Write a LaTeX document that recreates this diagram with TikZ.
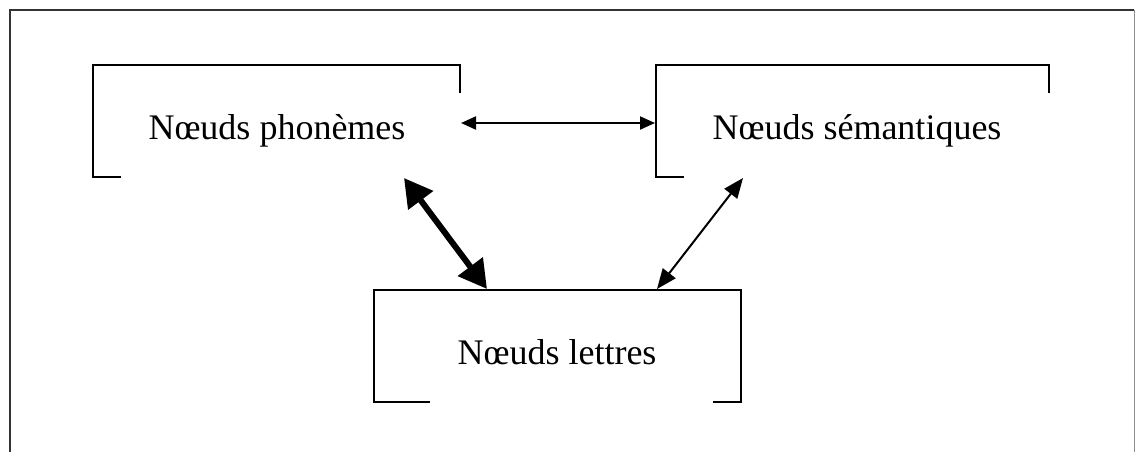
\documentclass[tikz,border=0pt]{standalone}
\usepackage{fontspec}
\setmainfont{Liberation Serif}
\usetikzlibrary{arrows.meta}
\begin{document}
\begin{tikzpicture}[x=1pt,y=-1pt,
  bracket/.style={line width=1.6pt,line cap=butt},
  boxarea/.style={draw=none,inner sep=0pt},
  label/.style={font=\fontsize{36}{40}\selectfont,inner sep=0pt},
  thinarrow/.style={line width=2pt,{Triangle[length=15pt,width=13pt]}-{Triangle[length=15pt,width=13pt]}},
  thickarrow/.style={line width=6pt,{Triangle[length=28pt,width=30pt]}-{Triangle[length=28pt,width=30pt]}},
  diagarrow/.style={line width=2pt,{Triangle[length=20pt,width=16pt]}-{Triangle[length=20pt,width=16pt]}}]
\useasboundingbox (0,0) rectangle (1135,452);
\fill[white] (0,0) rectangle (1135,452);
% outer frame (open at the bottom)
\draw[line width=2.5pt,black!80] (10,452) -- (10,10) -- (1134,10);
\draw[line width=1pt,black!45] (1134,10) -- (1134,452);
% box areas
\node[boxarea,minimum width=367pt,minimum height=112pt] (phon) at (276.5,121) {};
\node[boxarea,minimum width=393pt,minimum height=112pt] (sem) at (852.5,121) {};
\node[boxarea,minimum width=367pt,minimum height=112pt] (lett) at (557.5,346) {};
% brackets
\draw[bracket] (121,177) -- (93,177) -- (93,65) -- (460,65) -- (460,93);
\draw[bracket] (684,177) -- (656,177) -- (656,65) -- (1049,65) -- (1049,93);
\draw[bracket] (430,402) -- (374,402) -- (374,290) -- (741,290) -- (741,402) -- (713,402);
% labels
\node[label] (tphon) at (277,131) {Nœuds phonèmes};
\node[label] (tsem) at (857,131) {Nœuds sémantiques};
\node[label] (tlett) at (557,352) {Nœuds lettres};
% connector end points
\coordinate (pr) at (461,123);
\coordinate (sl) at (655,123);
\coordinate (pb) at (404,178);
\coordinate (lt1) at (487,289);
\coordinate (sb) at (743,178);
\coordinate (lt2) at (657,289);
\draw[thinarrow] (pr) -- (sl);
\draw[thickarrow] (pb) -- (lt1);
\draw[diagarrow] (sb) -- (lt2);
\end{tikzpicture}
\end{document}
